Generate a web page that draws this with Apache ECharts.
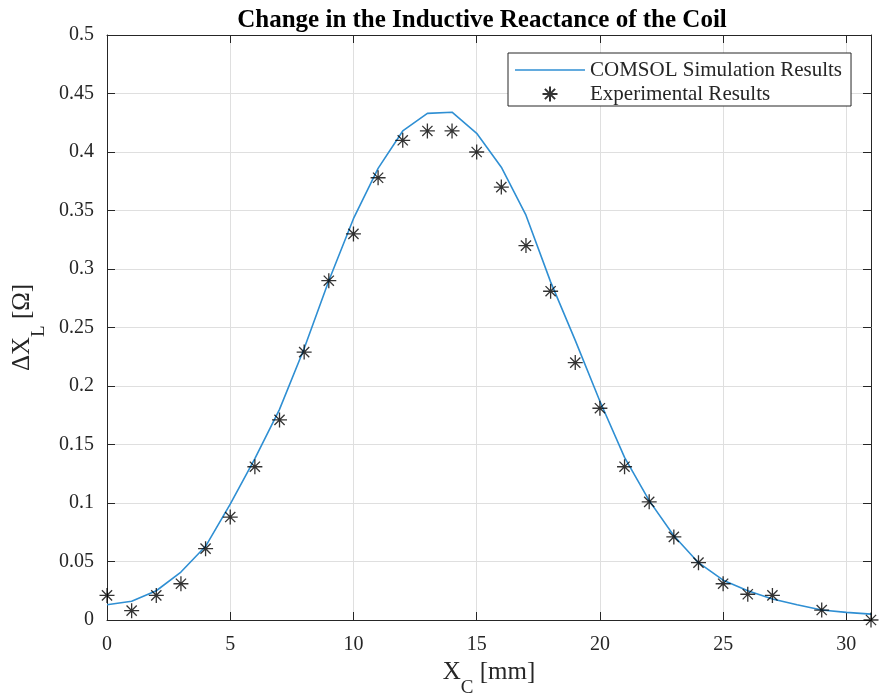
<!DOCTYPE html>
<html>
<head>
<meta charset="utf-8">
<script src="https://cdn.jsdelivr.net/npm/echarts@6/dist/echarts.min.js"></script>
</head>
<body style="margin:0;background:#fff">
<div id="main" style="width:880px;height:695px;"></div>
<script type="text/javascript">
// 仿真曲线（COMSOL）
var simX = [0, 1, 2, 3, 4, 5, 6, 7, 8, 9, 10, 11, 12, 13, 14, 15, 16, 17, 18, 19, 20, 21, 22, 23, 24, 25, 26, 27, 28, 29, 30, 31];
var simY = [0.013, 0.016, 0.025, 0.041, 0.063, 0.099, 0.138, 0.18, 0.232, 0.29, 0.343, 0.386, 0.418, 0.433, 0.434, 0.416, 0.387, 0.346, 0.289, 0.239, 0.187, 0.139, 0.102, 0.072, 0.049, 0.034, 0.025, 0.018, 0.013, 0.0085, 0.0065, 0.005];
// 实验数据
var expX = [0, 1, 2, 3, 4, 5, 6, 7, 8, 9, 10, 11, 12, 13, 14, 15, 16, 17, 18, 19, 20, 21, 22, 23, 24, 25, 26, 27, 29, 31];
var expY = [0.021, 0.008, 0.021, 0.031, 0.061, 0.088, 0.131, 0.171, 0.229, 0.29, 0.33, 0.378, 0.41, 0.418, 0.418, 0.4, 0.37, 0.32, 0.281, 0.22, 0.181, 0.131, 0.101, 0.071, 0.049, 0.031, 0.022, 0.021, 0.0085, 0];

var serif = 'Liberation Serif';
var axisColor = '#262626';
var star = 'path://M5 0L5 10M0 5L10 5M1.6 1.6L8.4 8.4M1.6 8.4L8.4 1.6';
var nameRich = {
    a: { fontFamily: serif, fontSize: 25, lineHeight: 28, verticalAlign: 'top', color: '#262626' },
    s: { fontFamily: serif, fontSize: 19, lineHeight: 19, padding: [19, 0, 0, 0], verticalAlign: 'top', color: '#262626' }
};

var myChart = echarts.init(document.getElementById('main'));

var option = {
    backgroundColor: '#fff',
    animation: false,
    title: {
        text: 'Change in the Inductive Reactance of the Coil',
        left: 477,
        textAlign: 'center',
        top: 3,
        textStyle: { fontFamily: serif, fontWeight: 'bold', fontSize: 25, color: '#000' }
    },
    grid: { left: 107, right: 9, top: 35, bottom: 75, outerBoundsMode: 'none', containLabel: false },
    legend: {
        left: 508,
        top: 53,
        z: 20,
        orient: 'vertical',
        backgroundColor: '#fff',
        borderColor: axisColor,
        borderWidth: 1,
        borderRadius: 0,
        padding: [5, 9, 0, 7],
        itemGap: 0,
        itemWidth: 70,
        itemHeight: 15,
        textStyle: { fontFamily: serif, fontSize: 21, lineHeight: 24, color: '#262626' },
        data: [
            { name: 'COMSOL Simulation Results', icon: 'path://M0 0L70 0L70 1.6L0 1.6Z' },
            { name: 'Experimental Results' }
        ]
    },
    xAxis: [{
        type: 'value',
        min: 0, max: 31, interval: 5,
        name: '{a|X}{s|C}{a| [mm]}',
        nameLocation: 'middle',
        nameGap: 38,
        nameTextStyle: { color: '#262626', rich: nameRich },
        z: 5,
        axisLine: { show: true, onZero: false, lineStyle: { color: axisColor } },
        axisTick: { inside: true, length: 8, lineStyle: { color: axisColor } },
        axisLabel: { showMaxLabel: false, margin: 15, fontFamily: serif, fontSize: 20, color: '#262626' },
        splitLine: { show: true, showMinLine: false, showMaxLine: false, lineStyle: { color: '#dfdfdf' } }
    }, {
        type: 'value', position: 'top',
        min: 0, max: 31, interval: 5,
        z: 5,
        axisLine: { show: true, onZero: false, lineStyle: { color: axisColor } },
        axisTick: { inside: true, length: 8, lineStyle: { color: axisColor } },
        axisLabel: { show: false },
        splitLine: { show: false }
    }],
    yAxis: [{
        type: 'value',
        min: 0, max: 0.5, interval: 0.05,
        name: '{a|ΔX}{s|L}{a| [Ω]}',
        nameLocation: 'middle',
        nameRotate: 90,
        nameGap: 59,
        nameTextStyle: { color: '#262626', rich: nameRich },
        z: 5,
        axisLine: { show: true, onZero: false, lineStyle: { color: axisColor } },
        axisTick: { inside: true, length: 8, lineStyle: { color: axisColor } },
        axisLabel: { margin: 13, fontFamily: serif, fontSize: 20, color: '#262626' },
        splitLine: { show: true, showMinLine: false, showMaxLine: false, lineStyle: { color: '#dfdfdf' } }
    }, {
        type: 'value', position: 'right',
        min: 0, max: 0.5, interval: 0.05,
        z: 5,
        axisLine: { show: true, onZero: false, lineStyle: { color: axisColor } },
        axisTick: { inside: true, length: 8, lineStyle: { color: axisColor } },
        axisLabel: { show: false },
        splitLine: { show: false }
    }],
    series: [
        {
            name: 'COMSOL Simulation Results',
            type: 'line',
            data: simX.map(function (x, i) { return [x, simY[i]]; }),
            showSymbol: false,
            symbol: 'none',
            lineStyle: { color: '#2f8fd3', width: 1.6 },
            itemStyle: { color: '#2f8fd3' },
            z: 8
        },
        {
            name: 'Experimental Results',
            type: 'scatter',
            data: expX.map(function (x, i) { return [x, expY[i]]; }),
            symbol: star,
            symbolSize: 15,
            symbolKeepAspect: true,
            itemStyle: { color: '#000', borderColor: '#000', borderWidth: 1.3 },
            z: 9
        }
    ]
};

myChart.setOption(option);
</script>
</body>
</html>
